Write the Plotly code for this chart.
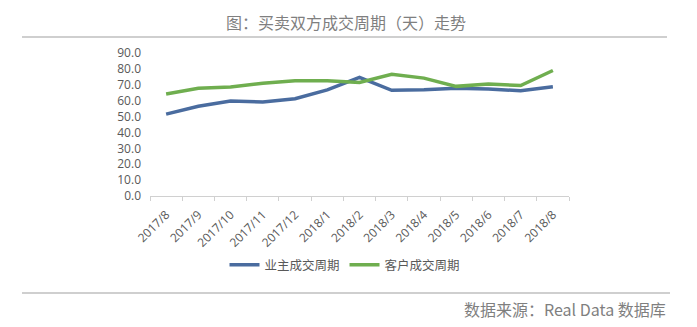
import plotly.graph_objects as go

categories = ["2017/8", "2017/9", "2017/10", "2017/11", "2017/12", "2018/1", "2018/2",
              "2018/3", "2018/4", "2018/5", "2018/6", "2018/7", "2018/8"]
owner_days = [51.5, 56.5, 59.8, 59.2, 61.2, 66.8, 74.6, 66.5, 66.9, 67.8, 67.3, 66.3, 68.8]
client_days = [64.2, 67.8, 68.6, 71.0, 72.5, 72.5, 71.4, 76.6, 74.2, 69.0, 70.5, 69.5, 79.0]
series_names = ["业主成交周期", "客户成交周期"]
y_ticks = [0, 10, 20, 30, 40, 50, 60, 70, 80, 90]

W, H = 697, 327
L, R, T, B = 150, 569, 53, 196  # plot area pixel box
pw, ph = R - L, B - T

def px(x):
    return (x - L) / pw

def py(y):
    return (B - y) / ph

CJK = "Noto Sans CJK SC, Open Sans, sans-serif"

fig = go.Figure()
fig.add_trace(go.Scatter(x=categories, y=owner_days, mode="lines", name=series_names[0],
                         line=dict(color="#4A6C9F", width=3.5)))
fig.add_trace(go.Scatter(x=categories, y=client_days, mode="lines", name=series_names[1],
                         line=dict(color="#6FAE4F", width=3.5)))

fig.update_layout(
    width=W, height=H,
    margin=dict(l=L, r=W - R, t=T, b=H - B),
    paper_bgcolor="white", plot_bgcolor="white",
    font=dict(family=CJK, color="#595959", size=11),
    showlegend=True,
    legend=dict(orientation="h", x=px(345), xanchor="center", y=py(265), yanchor="middle",
                font=dict(size=12.5, color="#595959", family=CJK), itemwidth=30,
                bgcolor="rgba(0,0,0,0)"),
    xaxis=dict(type="category", showgrid=False, showline=True, linecolor="#D0D0D0", linewidth=1,
               ticks="outside", tickson="boundaries", ticklen=4, tickcolor="#D0D0D0",
               tickangle=-45, ticklabelstandoff=6,
               tickfont=dict(size=12, color="#595959", family="Open Sans, sans-serif"),
               range=[-0.5, len(categories) - 0.5]),
    yaxis=dict(range=[0, 90], tickvals=y_ticks, tickformat=".1f", showgrid=False,
               showline=False, zeroline=False, ticks="", ticklabelstandoff=8,
               tickfont=dict(size=12, color="#595959", family="Open Sans, sans-serif")),
)

fig.add_annotation(text="图：买卖双方成交周期（天）走势", xref="paper", yref="paper",
                   x=px(346), y=py(22), xanchor="center", yanchor="middle", showarrow=False,
                   font=dict(size=16, color="#7F7F7F", family=CJK))
fig.add_annotation(text="数据来源：Real Data 数据库", xref="paper", yref="paper",
                   x=px(668), y=py(309), xanchor="right", yanchor="middle", showarrow=False,
                   font=dict(size=16, color="#7F7F7F", family=CJK))
fig.add_shape(type="line", xref="paper", yref="paper", x0=px(22), x1=px(667), y0=py(37), y1=py(37),
              line=dict(color="#BFBFBF", width=1.5))
fig.add_shape(type="line", xref="paper", yref="paper", x0=px(22), x1=px(670), y0=py(293), y1=py(293),
              line=dict(color="#BFBFBF", width=1.5))

fig.write_html("out.html")
